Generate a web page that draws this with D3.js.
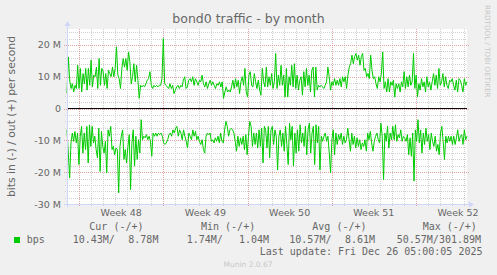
<!DOCTYPE html>
<html><head><meta charset="utf-8">
<script src="https://cdn.jsdelivr.net/npm/d3@7"></script>
<style>html,body{margin:0;padding:0;background:#F0F0F0;} svg{display:block;}</style>
</head><body>
<svg id="chart" width="497" height="275"></svg>
<script>
// ---- data (values in Mbit/s) ----
const outValues = [4.8,16.2,9,6.3,7.8,5.2,7.3,6.3,13.6,6.3,12.6,5.2,11,7.8,12.6,5.8,12.6,7.3,15.2,6.8,10.5,10,13,6.3,15.7,7.3,12.6,11.6,7.3,11,6.3,12,11,10,13,10,12.6,19.4,10.5,9.4,6.3,12.6,15.7,13,15.7,12,17.8,14.7,7.8,10,14.1,8.4,13.6,8.9,3.2,7.3,6.8,7.3,6.8,7.8,8.9,9.4,11.6,7.3,6.3,7.3,6.8,7.3,6.8,7.3,7.3,9.4,
22,7.8,7.3,6.8,6.3,7.8,6.3,7.3,4.7,5.8,6.8,7.3,6.3,7.3,6.8,8.9,10,6.3,6.8,8.9,9.4,8.4,10,7.3,9.4,8.4,7.3,8.9,8.4,10.5,7.8,6.8,8.4,6.3,7.8,8.9,7.3,8.4,7.3,6.3,7.8,7.3,8.4,6.8,8.4,3.2,5.2,6.8,5.2,5.8,5.2,6.8,8.9,6.3,9.4,6.8,8.9,4.7,8.4,10,7.3,12.6,5.2,3.6,10.5,11.6,7.3,6.8,11,8.4,6.3,8.9,5.8,4.2,12.6,
8.4,6.8,13,6.8,10,7.3,11,6.3,8.4,17.3,6.3,10.5,7.3,13.6,7.3,10.5,3.6,12.6,3.6,10,7.3,13.6,6.8,14.1,6.3,10.5,5.8,8.9,10,4.2,11.6,6.8,12.6,7.3,10.5,5.2,12,13,3.6,13,5.8,7.3,6.8,7.3,6.8,6.3,7.3,8.4,13,10,5.8,8.4,7.3,9.4,7.3,8.9,7.3,9.4,6.8,10,8.4,10,6.3,10.5,13,14.1,16.8,14.1,16.3,17.3,15.2,16.8,13.6,16.3,17.3,12,
12.6,10,11,9.4,16.8,12,9.4,10,7.8,6.3,10,8.4,11,17.8,6.3,8.4,5.2,9.4,5.2,8.4,7.3,8.9,3.6,7.8,6.3,7.8,5.2,8.4,6.8,11.6,6.3,10,6.8,10.5,7.3,8.4,17.3,6.3,10.5,3.6,7.8,5.8,9.4,6.8,8.4,5.2,10,6.8,8.4,5.8,8.4,11,7.3,10.5,6.3,12.6,7.3,8.4,11,6.8,10,7.3,6.3,8.9,8.4,9.4,7.3,5.8,8.9,5.2,9.4,8.9,7.3,5.2,9.4,7.3,8.4];

const inValues = [6.7,14,21.8,10.8,7.7,10.3,7.2,10.8,7.7,17.6,8.7,5.6,14,7.7,12.9,5.6,17.1,5.1,11.9,5.6,10.8,8.7,12.9,15.5,6.2,19.8,7.2,11.9,14,10.3,20.2,6.7,8.7,5.6,12.9,11.9,14.5,12.4,12.9,26.5,11.9,8.7,6.7,16,12.9,17.1,11.9,8.2,25.5,10.8,6.7,18.1,8.7,16,9.8,14,3.5,9.8,8.7,9.2,8.2,9.8,8.7,10.3,15,7.7,8.7,7.7,8.7,7.7,8.2,7.7,8.7,10.8,
11.3,10.8,9.8,8.2,7.7,8.7,6.7,7.7,6.2,5.6,8.7,6.7,7.7,9.8,6.7,8.7,10.3,12.4,7.7,8.7,9.8,6.7,8.7,7.2,9.8,8.7,10.3,11.3,9.8,12.9,14,8.7,7.7,8.2,7.7,10.3,9.8,10.8,9.2,10.3,8.7,10.8,7.7,10.3,10.8,6.7,4,5.6,8.7,6.7,6.2,6.7,7.7,10.3,13.4,8.7,11.9,9.2,11.3,8.7,12.9,8.2,14.5,8.7,4,5.6,11.9,7.7,11.3,7.7,12.4,6.7,11.9,6.2,17.1,5.6,
6.7,12.4,5.6,15.5,6.7,5.6,11.3,6.7,8.7,19.3,8.7,6.7,11.9,7.7,13.4,5.6,11.3,17.6,4.6,9.8,5.6,18.1,7.7,14,6.7,13.4,5.1,10.8,7.7,11.9,5.6,14.5,6.7,4.6,14,7.7,5.6,17.6,5.1,10.8,5.6,19.3,8.7,10.3,8.7,7.7,10.3,8.7,14,20.2,9.8,6.7,14.5,7.7,11.3,8.2,9.8,7.7,11.3,8.7,10.8,9.8,6.2,9.8,13.4,7.7,11.3,8.7,12.4,9.2,11.9,9.8,12.9,10.8,11.9,9.8,
13.4,7.7,9.8,7.2,10.8,13.4,10.3,8.7,7.7,9.8,10.8,4.6,8.7,22.3,7.7,10.3,5.6,12.4,7.7,9.8,5.6,9.8,5.1,10.3,8.2,9.2,6.7,10.3,8.7,9.2,10.3,8.2,14.5,9.2,15,7.7,22.8,6.7,10.3,3.5,10.8,6.7,14,7.7,11.3,6.2,10.3,8.2,12.9,7.7,10.3,11.9,8.7,13.4,11.3,14.5,7.7,5.6,10.3,16,8.7,10.8,8.7,10.3,8.7,11.3,8.7,11.3,9.2,6.7,10.3,8.7,8.2,11.3,6.7,9.8,8.7];

const yTickValues = [-30, -20, -10, 0, 10, 20];
const yTickLabels = ["-30 M", "-20 M", "-10 M", "0", "10 M", "20 M"];
const weekStarts = ["2025-11-24", "2025-12-01", "2025-12-08", "2025-12-15", "2025-12-22"];
const weekLabels = ["Week 48", "Week 49", "Week 50", "Week 51", "Week 52"];
const legendHeaders = ["Cur (-/+)", "Min (-/+)", "Avg (-/+)", "Max (-/+)"];
const legendIn = ["10.43M/", "1.74M/", "10.57M/", "50.57M/"];
const legendOut = ["8.78M", "1.04M", "8.61M", "301.89M"];
const seriesName = "bps";
const titleText = "bond0 traffic - by month";
const yLabelText = "bits in (-) / out (+) per second";
const lastUpdate = "Last update: Fri Dec 26 05:00:05 2025";
const footer = "Munin 2.0.67";
const watermark = "RRDTOOL / TOBI OETIKER";

// ---- layout ----
const L = 67, R = 467, T = 29, B = 204;
const startT = Date.UTC(2025, 10, 23, 0, 0), endT = Date.UTC(2025, 11, 26, 5, 45);
const x = d3.scaleUtc().domain([startT, endT]).range([L, R]);
const y = d3.scaleLinear().domain([-30, 25]).range([B, T]);
const FONT = "#666666", SANS = "DejaVu Sans, sans-serif", MONO = "DejaVu Sans Mono, monospace";
const GRID = "#D0D0D0", MGRID = "#E3A3A3", AXIS = "#CFD6F8";

const svg = d3.select("#chart");
svg.append("rect").attr("width", 497).attr("height", 275).attr("fill", "#F0F0F0");
svg.append("rect").attr("x", L).attr("y", T).attr("width", R - L).attr("height", B - T).attr("fill", "#FFFFFF");

const g = svg.append("g");
const weekDates = weekStarts.map(s => new Date(s + "T00:00:00Z"));
const weekSet = new Set(weekDates.map(d => +d));
const days = d3.utcDay.range(new Date(startT), new Date(endT)).filter(d => !weekSet.has(+d) && x(d) > L + 1);
const px = v => Math.round(v) + 0.5;

// minor vertical
g.selectAll(".vmin").data(days).join("line")
  .attr("x1", d => px(x(d))).attr("x2", d => px(x(d))).attr("y1", T).attr("y2", B + 2)
  .attr("stroke", GRID).attr("stroke-dasharray", "1,1");
// minor horizontal
const minorY = d3.range(-30, 25, 2).filter(v => v % 10 !== 0);
g.selectAll(".hmin").data(minorY).join("line")
  .attr("y1", d => px(y(d))).attr("y2", d => px(y(d))).attr("x1", L - 2).attr("x2", R)
  .attr("stroke", GRID).attr("stroke-dasharray", "1,1");
// major vertical
g.selectAll(".vmaj").data(weekDates).join("line")
  .attr("x1", d => px(x(d))).attr("x2", d => px(x(d))).attr("y1", T).attr("y2", B + 3)
  .attr("stroke", MGRID).attr("stroke-dasharray", "1,1");
// major horizontal
g.selectAll(".hmaj").data(yTickValues.filter(v => v !== -30)).join("line")
  .attr("y1", d => px(y(d))).attr("y2", d => px(y(d))).attr("x1", L - 3).attr("x2", R + 2)
  .attr("stroke", MGRID).attr("stroke-dasharray", "1,1");

// series
const n1 = outValues.length, n2 = inValues.length;
const tOut = i => startT + i * (endT - startT) / (n1 - 1);
const tIn = i => startT + i * (endT - startT) / (n2 - 1);
const line = d3.line().x(d => x(d[0])).y(d => y(d[1]));
svg.append("path").datum(inValues.map((v, i) => [tIn(i), -v]))
  .attr("d", line).attr("fill", "none").attr("stroke", "#00CC00").attr("stroke-width", 1);
svg.append("path").datum(outValues.map((v, i) => [tOut(i), v]))
  .attr("d", line).attr("fill", "none").attr("stroke", "#00CC00").attr("stroke-width", 1);

// zero line
svg.append("line").attr("x1", L).attr("x2", R).attr("y1", y(0)).attr("y2", y(0))
  .attr("stroke", "#000").attr("stroke-width", 1);

// axes with arrows
svg.append("line").attr("x1", L - 3).attr("x2", R + 4).attr("y1", B + 0.5).attr("y2", B + 0.5).attr("stroke", AXIS);
svg.append("line").attr("x1", L + 0.5).attr("x2", L + 0.5).attr("y1", B + 3).attr("y2", T - 4).attr("stroke", AXIS);
svg.append("path").attr("d", `M${R + 7},${B + 0.5} L${R + 2},${B - 2.5} L${R + 2},${B + 3.5} Z`).attr("fill", AXIS);
svg.append("path").attr("d", `M${L + 0.5},${T - 8} L${L - 2.5},${T - 3} L${L + 3.5},${T - 3} Z`).attr("fill", AXIS);

// y tick labels
svg.selectAll(".ylab").data(yTickValues).join("text")
  .attr("x", 61).attr("y", d => y(d) + 3.5).attr("text-anchor", "end")
  .attr("font-family", SANS).attr("font-size", 9.5).attr("fill", FONT)
  .text((d, i) => yTickLabels[i]);

// x labels centered mid-week
svg.selectAll(".xlab").data(weekDates).join("text")
  .attr("x", d => x(+d + 3.5 * 864e5)).attr("y", 215.5).attr("text-anchor", "middle")
  .attr("font-family", SANS).attr("font-size", 9.5).attr("fill", FONT)
  .text((d, i) => weekLabels[i]);

// title
svg.append("text").attr("x", 248.5).attr("y", 23).attr("text-anchor", "middle")
  .attr("font-family", SANS).attr("font-size", 12.5).attr("fill", FONT).text(titleText);

// y axis label
svg.append("text").attr("transform", `translate(15,${(T + B) / 2}) rotate(-90)`)
  .attr("text-anchor", "middle").attr("font-family", SANS).attr("font-size", 10.8)
  .attr("fill", FONT).text(yLabelText);

// watermark
svg.append("text").attr("transform", "translate(485,5) rotate(90)")
  .attr("font-family", SANS).attr("font-size", 7.2).attr("fill", "#C8C8C8").text(watermark);

// legend
const headX = [89.3, 201, 312.3, 422.7];
const inX = [72.7, 186.7, 289.3, 396.7];
const outX = [128.3, 239, 345, 439];
const mono = sel => sel.attr("font-family", MONO).attr("font-size", 10).attr("fill", FONT);
legendHeaders.forEach((h, i) => mono(svg.append("text").attr("x", headX[i]).attr("y", 230).text(h)));
svg.append("rect").attr("x", 14).attr("y", 237).attr("width", 6).attr("height", 6).attr("fill", "#00CC00");
mono(svg.append("text").attr("x", 26.7).attr("y", 243).text(seriesName));
legendIn.forEach((t, i) => mono(svg.append("text").attr("x", inX[i]).attr("y", 243).text(t)));
legendOut.forEach((t, i) => mono(svg.append("text").attr("x", outX[i]).attr("y", 243).text(t)));
mono(svg.append("text").attr("x", 482.5).attr("y", 255).attr("text-anchor", "end").text(lastUpdate));
svg.append("text").attr("x", 248).attr("y", 266.5).attr("text-anchor", "middle")
  .attr("font-family", SANS).attr("font-size", 7.5).attr("fill", "#C8C8C8").text(footer);
</script>
</body></html>
